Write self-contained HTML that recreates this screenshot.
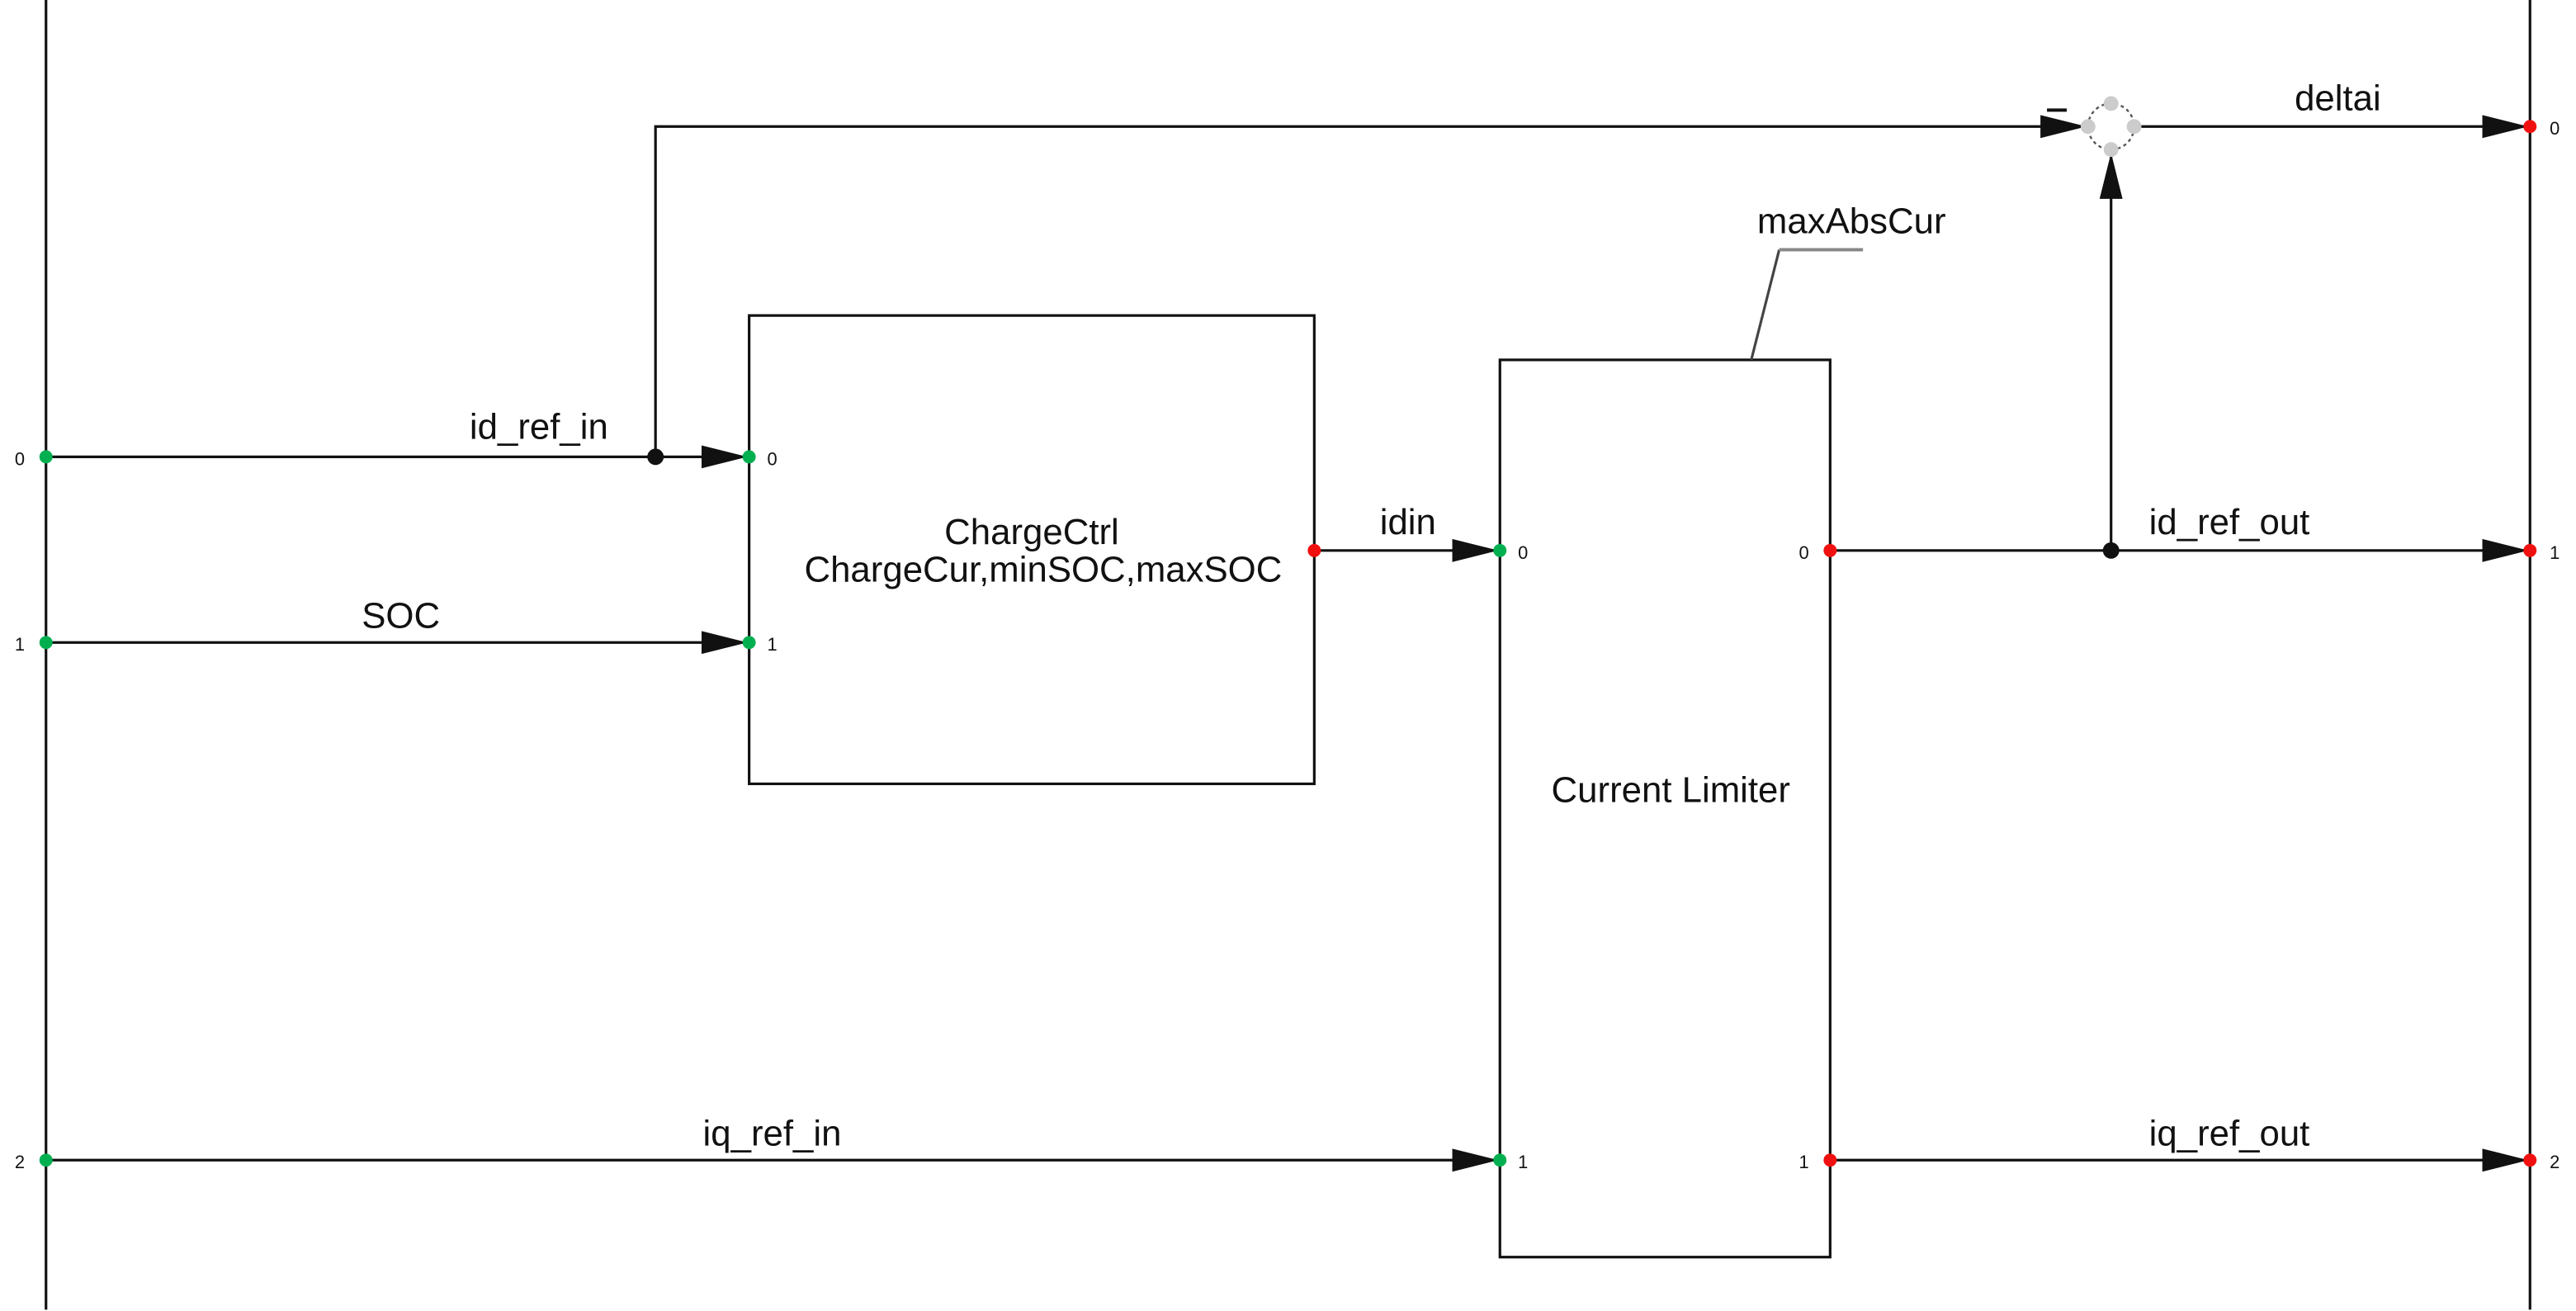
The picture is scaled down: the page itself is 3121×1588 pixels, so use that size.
<!DOCTYPE html>
<html><head><meta charset="utf-8"><style>
html,body{margin:0;padding:0;background:#fff;}
svg{display:block;}
text{font-family:"Liberation Sans",Arial,sans-serif;fill:#111;}
.l{font-size:22px;}
.p{font-size:11px;}
</style></head><body>
<svg width="3121" height="1588" viewBox="0 0 1568 797.8" preserveAspectRatio="none" xmlns="http://www.w3.org/2000/svg">
<defs>
<marker id="a" viewBox="0 0 28 16" refX="28" refY="8" markerWidth="28" markerHeight="16" markerUnits="userSpaceOnUse" orient="auto">
<path d="M0,1 L28,8 L0,15 Z" fill="#111"/></marker>
</defs>
<g stroke="#111" stroke-width="1.6" fill="none">
<line x1="28" y1="0" x2="28" y2="797"/>
<line x1="1540" y1="0" x2="1540" y2="797"/>
<rect x="456" y="192" width="344" height="285"/>
<rect x="913" y="219" width="201" height="546"/>
<line x1="28" y1="278" x2="455" y2="278" marker-end="url(#a)"/>
<polyline points="399,278 399,77 1270,77" marker-end="url(#a)"/>
<line x1="28" y1="391" x2="455" y2="391" marker-end="url(#a)"/>
<line x1="28" y1="706" x2="912" y2="706" marker-end="url(#a)"/>
<line x1="800" y1="335" x2="912" y2="335" marker-end="url(#a)"/>
<line x1="1114" y1="335" x2="1539" y2="335" marker-end="url(#a)"/>
<line x1="1285" y1="335" x2="1285" y2="93" marker-end="url(#a)"/>
<line x1="1300" y1="77" x2="1539" y2="77" marker-end="url(#a)"/>
<line x1="1114" y1="706" x2="1539" y2="706" marker-end="url(#a)"/>
<polyline points="1066,219 1083,152" stroke="#444"/>
<line x1="1083" y1="152" x2="1134" y2="152" stroke="#888" stroke-width="2"/>
</g>
<circle cx="1285" cy="77" r="14" fill="#fff" stroke="#555" stroke-width="1.2" stroke-dasharray="2,2"/>
<g fill="#ccc"><circle cx="1285" cy="63" r="4.5"/><circle cx="1285" cy="91" r="4.5"/><circle cx="1271" cy="77" r="4.5"/><circle cx="1299" cy="77" r="4.5"/></g>
<line x1="1246" y1="67" x2="1258" y2="67" stroke="#111" stroke-width="2"/>
<g fill="#111"><circle cx="399" cy="278" r="5"/><circle cx="1285" cy="335" r="5"/></g>
<g fill="#00b050"><circle cx="28" cy="278" r="4"/><circle cx="28" cy="391" r="4"/><circle cx="28" cy="706" r="4"/><circle cx="456" cy="278" r="4"/><circle cx="456" cy="391" r="4"/><circle cx="913" cy="335" r="4"/><circle cx="913" cy="706" r="4"/></g>
<g fill="#f01010"><circle cx="800" cy="335" r="4"/><circle cx="1114" cy="335" r="4"/><circle cx="1114" cy="706" r="4"/><circle cx="1540" cy="77" r="4"/><circle cx="1540" cy="335" r="4"/><circle cx="1540" cy="706" r="4"/></g>
<g class="p">
<text x="9" y="283">0</text><text x="9" y="396">1</text><text x="9" y="711">2</text>
<text x="467" y="283">0</text><text x="467" y="396">1</text>
<text x="924" y="340">0</text><text x="924" y="711">1</text>
<text x="1095" y="340">0</text><text x="1095" y="711">1</text>
<text x="1552" y="82">0</text><text x="1552" y="340">1</text><text x="1552" y="711">2</text>
</g>
<g class="l" text-anchor="middle">
<text x="328" y="267">id_ref_in</text>
<text x="244" y="382">SOC</text>
<text x="470" y="697">iq_ref_in</text>
<text x="857" y="325">idin</text>
<text x="628" y="331">ChargeCtrl</text>
<text x="635" y="354">ChargeCur,minSOC,maxSOC</text>
<text x="1017" y="488">Current Limiter</text>
<text x="1127" y="142">maxAbsCur</text>
<text x="1423" y="67">deltai</text>
<text x="1357" y="325">id_ref_out</text>
<text x="1357" y="697">iq_ref_out</text>
</g>
</svg>
</body></html>
